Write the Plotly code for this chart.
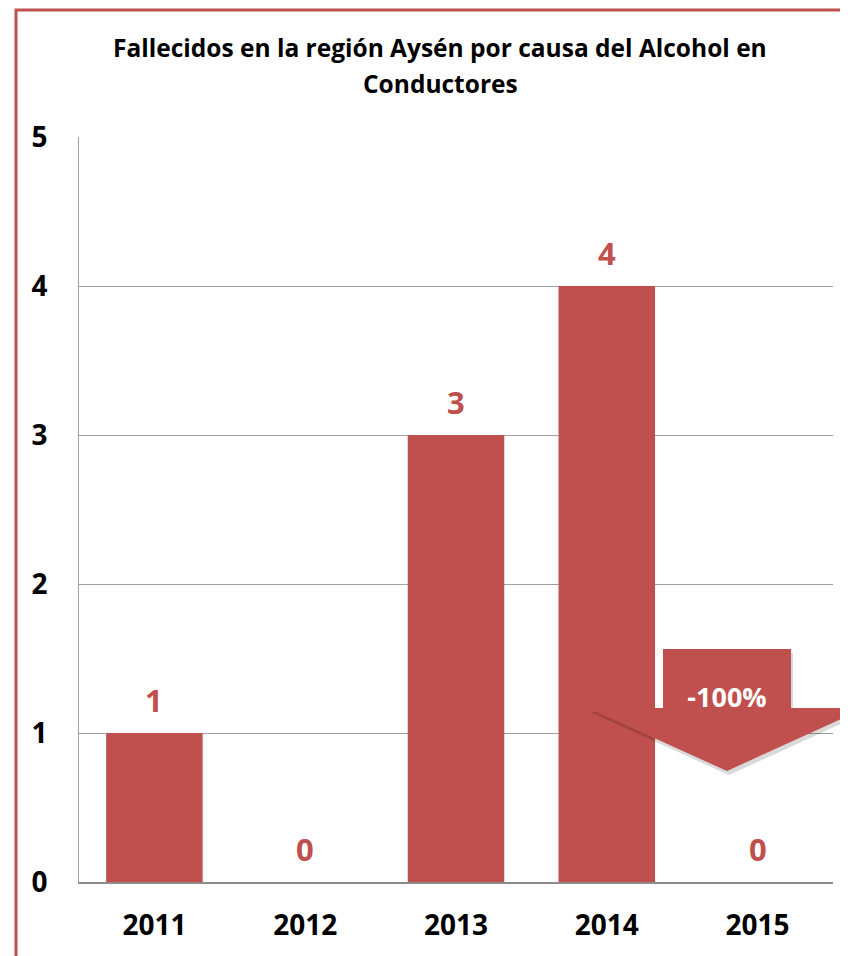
import plotly.graph_objects as go

years = ["2011", "2012", "2013", "2014", "2015"]
values = [1, 0, 3, 4, 0]
change_label = "-100%"
title_lines = ["Fallecidos en la región Aysén por causa del Alcohol en", "Conductores"]

RED = "#C0504D"
FONT = "Open Sans"

# page body has an 8px margin; work in reference pixel coords and shift by OFF
OFF = 8
W, H = 848 - OFF, 956 - OFF
L, R, T, B = 79 - OFF, 15, 137 - OFF, 74
PW, PH = W - L - R, H - T - B

def px(x):
    return (x - OFF - L) / PW

def py(y):
    return (H - B - (y - OFF)) / PH

idx = list(range(len(years)))

fig = go.Figure()
fig.add_trace(go.Bar(x=idx, y=values, marker=dict(color=RED, line=dict(width=0)),
                     width=0.64, hovertext=years, hoverinfo="text+y"))

annotations = []
for i, v in zip(idx, values):
    annotations.append(dict(x=i, y=v, xref="x", yref="y", text=str(v), showarrow=False, yshift=33,
                            xanchor="center", yanchor="middle",
                            font=dict(family=FONT, size=31, color=RED, weight="bold")))

for ty, line in zip([48, 84], title_lines):
    annotations.append(dict(xref="paper", yref="paper", x=px(440), y=py(ty), text=line,
                            xanchor="center", yanchor="middle", showarrow=False,
                            font=dict(family=FONT, size=24.5, color="#000000", weight="bold")))

def arrow_path(dx=0, dy=0):
    pts = [(663, 649), (791, 649), (791, 708), (865, 708), (727, 771), (588, 708), (663, 708)]
    return "M " + " L ".join(f"{px(x+dx):.5f},{py(y+dy):.5f}" for x, y in pts) + " Z"

shapes = [
    dict(type="path", xref="paper", yref="paper", path=arrow_path(2, 4),
         fillcolor="rgba(0,0,0,0.15)", line=dict(width=0), layer="above"),
    dict(type="path", xref="paper", yref="paper", path=arrow_path(),
         fillcolor=RED, line=dict(width=0), layer="above"),
    dict(type="rect", xref="paper", yref="paper", x0=px(667), x1=px(787), y0=py(718), y1=py(678),
         fillcolor="rgba(0,0,0,0)", line=dict(width=0), layer="above",
         label=dict(text=change_label, textposition="middle center",
                    font=dict(family=FONT, size=27, color="#FFFFFF", weight="bold"))),
    dict(type="path", xref="paper", yref="paper",
         path=f"M {px(16):.5f},{py(1000):.5f} L {px(16):.5f},{py(10):.5f} L {px(900):.5f},{py(10):.5f}",
         line=dict(color=RED, width=3), layer="above"),
]

fig.update_layout(
    width=W, height=H,
    margin=dict(l=L, r=R, t=T, b=B),
    paper_bgcolor="white", plot_bgcolor="white",
    showlegend=False,
    annotations=annotations,
    shapes=shapes,
    font=dict(family=FONT),
)
fig.update_xaxes(range=[-0.5, len(years) - 0.5], tickmode="array", tickvals=idx, ticktext=years,
                 showgrid=False, showline=True, linecolor="#8C8C8C", linewidth=1.5, zeroline=False,
                 ticks="", tickfont=dict(family=FONT, size=28, color="#000000", weight="bold"),
                 ticklabelstandoff=18)
fig.update_yaxes(range=[0, 5], dtick=1, showgrid=True, gridcolor="#A0A0A0", gridwidth=1,
                 showline=True, linecolor="#A0A0A0", linewidth=1, zeroline=False, ticks="",
                 tickfont=dict(family=FONT, size=28, color="#000000", weight="bold"),
                 ticklabelstandoff=25)

fig.write_html("out.html")
